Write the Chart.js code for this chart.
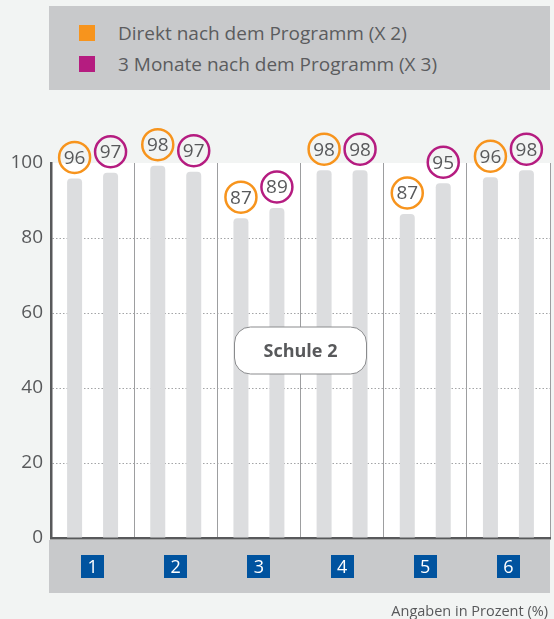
<!DOCTYPE html>
<html>
<head>
<meta charset="utf-8">
<script src="https://cdn.jsdelivr.net/npm/chart.js@4.4.1/dist/chart.umd.min.js"></script>
<style>
html,body{margin:0;padding:0;background:#f2f4f3;}
#wrap{position:relative;width:554px;height:619px;overflow:hidden;font-family:"Open Sans",sans-serif;}
#legend{position:absolute;left:49px;top:6px;width:501px;height:84px;background:#c8c9cb;}
.li{position:absolute;left:30px;height:16px;display:flex;align-items:center;white-space:nowrap;}
.sw{width:16px;height:16px;display:inline-block;}
.lt{position:absolute;left:39px;top:-6px;height:28px;line-height:28px;font-size:19px;color:#5b5c5e;}
#note{position:absolute;right:6px;top:600px;height:22px;line-height:22px;font-size:14.5px;color:#58595b;white-space:nowrap;}
canvas{position:absolute;left:0;top:0;}
</style>
</head>
<body>
<div id="wrap">
  <canvas id="c" width="554" height="619"></canvas>
  <div id="legend"></div>
  <div id="note"></div>
</div>
<script>
const categories = ['1', '2', '3', '4', '5', '6'];
const seriesNames = ['Direkt nach dem Programm (X 2)', '3 Monate nach dem Programm (X 3)'];
const seriesColors = ['#f7941d', '#b51c80'];
const direktBars = [95.9, 99.3, 85.3, 98.1, 86.4, 96.2];
const monateBars = [97.4, 97.7, 88.0, 98.1, 94.6, 98.1];
const direktLabels = [96, 98, 87, 98, 87, 96];
const monateLabels = [97, 97, 89, 98, 95, 98];
const yTicks = [0, 20, 40, 60, 80, 100];
const panelTitle = 'Schule 2';
const noteText = 'Angaben in Prozent (%)';

const FONT = '"Open Sans", sans-serif';
const TEXT = '#58595b';
const BAR = '#dcdddf';

// legend (HTML)
const legend = document.getElementById('legend');
seriesNames.forEach((name, i) => {
  const li = document.createElement('div');
  li.className = 'li';
  li.style.top = (19 + i * 31) + 'px';
  const sw = document.createElement('span');
  sw.className = 'sw';
  sw.style.background = seriesColors[i];
  const lt = document.createElement('span');
  lt.className = 'lt';
  lt.textContent = name;
  li.appendChild(sw);
  li.appendChild(lt);
  legend.appendChild(li);
});
document.getElementById('note').textContent = noteText;

const labelSets = [direktLabels, monateLabels];

const decor = {
  id: 'decor',
  beforeDraw(chart) {
    const {ctx, chartArea: a, scales: {x}} = chart;
    ctx.save();
    ctx.fillStyle = '#ffffff';
    ctx.fillRect(a.left, a.top, a.right - a.left, a.bottom - a.top);
    // category band
    ctx.fillStyle = '#c8c9cb';
    ctx.fillRect(a.left - 2, a.bottom + 2, a.right - a.left + 2, 53);
    categories.forEach((c, i) => {
      const cx = x.getPixelForValue(i);
      const cy = a.bottom + 28.5;
      ctx.fillStyle = '#00539f';
      ctx.fillRect(Math.round(cx - 11.5), Math.round(cy - 11.5), 23, 23);
      ctx.fillStyle = '#ffffff';
      ctx.font = '18px ' + FONT;
      ctx.textAlign = 'center';
      ctx.textBaseline = 'middle';
      ctx.fillText(c, cx, cy + 1);
    });
    ctx.restore();
  },
  afterDatasetsDraw(chart) {
    const {ctx, chartArea: a} = chart;
    ctx.save();
    // panel title box
    const bx = (a.left + a.right) / 2, by = (a.top + a.bottom) / 2;
    const w = 132, h = 47, r = 16;
    ctx.beginPath();
    ctx.roundRect(bx - w / 2, by - h / 2, w, h, r);
    ctx.fillStyle = '#ffffff';
    ctx.fill();
    ctx.lineWidth = 1;
    ctx.strokeStyle = '#8a8b8d';
    ctx.stroke();
    ctx.fillStyle = TEXT;
    ctx.font = 'bold 18px ' + FONT;
    ctx.textAlign = 'center';
    ctx.textBaseline = 'middle';
    ctx.fillText(panelTitle, bx, by + 1);
    // value circles
    chart.data.datasets.forEach((ds, di) => {
      const meta = chart.getDatasetMeta(di);
      meta.data.forEach((bar, i) => {
        const cx = bar.x, cy = bar.y - 21;
        ctx.beginPath();
        ctx.arc(cx, cy, 15.5, 0, Math.PI * 2);
        ctx.lineWidth = 2.5;
        ctx.strokeStyle = seriesColors[di];
        ctx.stroke();
        ctx.fillStyle = TEXT;
        ctx.font = '19px ' + FONT;
        ctx.fillText(String(labelSets[di][i]), cx, cy + 1);
      });
    });
    ctx.restore();
  }
};

const barStyle = {
  backgroundColor: BAR,
  borderColor: BAR,
  borderWidth: 0,
  borderRadius: {topLeft: 4, topRight: 4, bottomLeft: 0, bottomRight: 0},
  borderSkipped: 'start',
  categoryPercentage: 0.865,
  barPercentage: 0.417
};

new Chart(document.getElementById('c'), {
  type: 'bar',
  data: {
    labels: categories,
    datasets: [
      Object.assign({label: seriesNames[0], data: direktBars}, barStyle),
      Object.assign({label: seriesNames[1], data: monateBars}, barStyle)
    ]
  },
  options: {
    responsive: false,
    animation: false,
    devicePixelRatio: 1,
    layout: {padding: {left: 0, right: 4, top: 163, bottom: 81}},
    plugins: {legend: {display: false}, tooltip: {enabled: false}},
    scales: {
      x: {
        grid: {
          display: true, offset: true, drawTicks: false, lineWidth: 1,
          color: ctx => (ctx.index === 0 ? 'rgba(0,0,0,0)' : '#9d9ea0')
        },
        border: {display: true, color: '#58595b', width: 2.5},
        ticks: {display: false},
        afterFit: s => { s.height = 0; }
      },
      y: {
        min: 0, max: 100,
        afterBuildTicks: s => { s.ticks = yTicks.map(v => ({value: v})); },
        ticks: {font: {family: FONT, size: 19}, color: TEXT, padding: 8},
        grid: {
          drawTicks: false, lineWidth: 1,
          color: ctx => (ctx.tick && (ctx.tick.value === 0 || ctx.tick.value === 100)) ? 'rgba(0,0,0,0)' : '#a3a4a6'
        },
        border: {display: true, color: '#58595b', width: 2.5, dash: [1.5, 2]},
        afterFit: s => { s.width = 51; }
      }
    }
  },
  plugins: [decor]
});
</script>
</body>
</html>
